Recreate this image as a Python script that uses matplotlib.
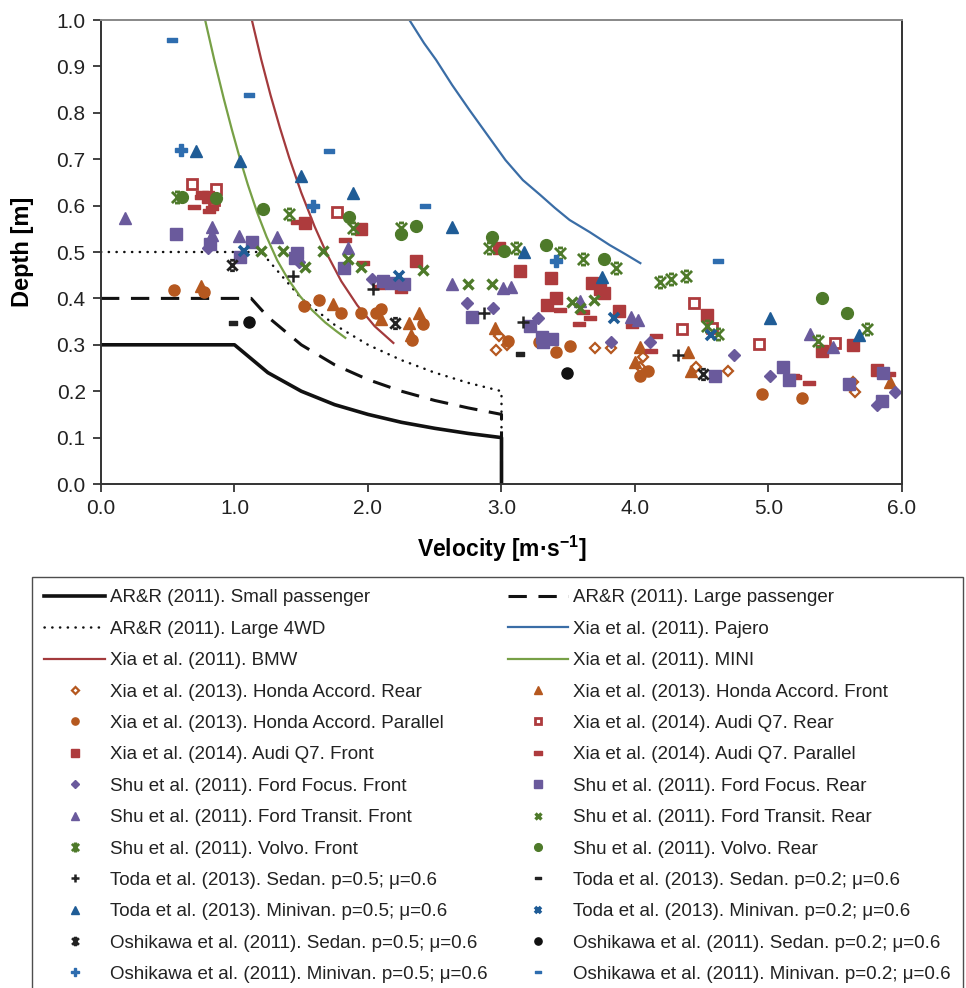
import matplotlib
matplotlib.use('Agg')
import matplotlib.pyplot as plt
from matplotlib.path import Path
from matplotlib.lines import Line2D

plt.rcParams['font.family'] = ['Liberation Sans', 'DejaVu Sans']

# ---------------- data ----------------
small_v = [0.0, 1.0, 1.25, 1.5, 1.75, 2.0, 2.25, 2.5, 2.75, 3.0, 3.0]
small_d = [0.3, 0.3, 0.24, 0.2, 0.171, 0.15, 0.133, 0.12, 0.109, 0.1, 0.0]
largep_v = [0.0, 1.125, 1.25, 1.5, 1.75, 2.0, 2.25, 2.5, 2.75, 3.0, 3.0]
largep_d = [0.4, 0.4, 0.36, 0.3, 0.257, 0.225, 0.2, 0.18, 0.164, 0.15, 0.0]
l4wd_v = [0.0, 1.2, 1.5, 1.75, 2.0, 2.25, 2.5, 2.75, 3.0, 3.0]
l4wd_d = [0.5, 0.5, 0.4, 0.343, 0.3, 0.267, 0.24, 0.218, 0.2, 0.0]
pajero_v = [2.31, 2.42, 2.51, 2.63, 2.76, 2.90, 3.03, 3.16, 3.29, 3.40, 3.51, 3.66, 3.81, 3.93, 4.04]
pajero_d = [1.0, 0.95, 0.914, 0.86, 0.806, 0.75, 0.698, 0.655, 0.623, 0.595, 0.569, 0.543, 0.515, 0.495, 0.476]
bmw_v = [1.13, 1.20, 1.27, 1.34, 1.41, 1.50, 1.60, 1.69, 1.80, 1.92, 2.05, 2.19]
bmw_d = [1.0, 0.915, 0.838, 0.768, 0.703, 0.628, 0.555, 0.497, 0.437, 0.385, 0.340, 0.304]
mini_v = [0.78, 0.85, 0.92, 0.98, 1.04, 1.10, 1.17, 1.24, 1.32, 1.40, 1.49, 1.58, 1.68, 1.76, 1.83]
mini_d = [1.0, 0.912, 0.830, 0.764, 0.702, 0.645, 0.585, 0.533, 0.482, 0.442, 0.405, 0.375, 0.348, 0.330, 0.315]

honda_rear_v = [2.98, 3.04, 2.96, 3.70, 3.82, 4.06, 4.04, 4.46, 4.70, 5.63, 5.65]
honda_rear_d = [0.319, 0.299, 0.289, 0.293, 0.293, 0.273, 0.252, 0.253, 0.244, 0.22, 0.198]
honda_front_v = [0.75, 1.74, 2.10, 2.38, 2.31, 2.32, 2.95, 4.04, 4.00, 4.40, 4.42, 5.91]
honda_front_d = [0.427, 0.388, 0.356, 0.368, 0.347, 0.321, 0.336, 0.295, 0.263, 0.285, 0.244, 0.22]
honda_par_v = [0.55, 0.77, 1.52, 1.63, 1.80, 1.95, 2.06, 2.10, 2.41, 2.33, 3.05, 3.28, 3.41, 3.51, 4.10, 4.04, 4.95, 5.25]
honda_par_d = [0.418, 0.414, 0.384, 0.397, 0.369, 0.369, 0.369, 0.377, 0.345, 0.31, 0.309, 0.306, 0.285, 0.297, 0.243, 0.233, 0.194, 0.185]
audi_rear_v = [0.68, 0.86, 0.85, 1.77, 4.35, 4.44, 4.58, 4.93, 5.50]
audi_rear_d = [0.646, 0.635, 0.612, 0.586, 0.334, 0.39, 0.336, 0.302, 0.304]
audi_front_v = [0.80, 1.53, 1.95, 2.36, 2.98, 3.14, 3.37, 3.41, 3.34, 3.68, 3.74, 3.77, 3.88, 4.54, 5.40, 5.63, 5.81]
audi_front_d = [0.619, 0.562, 0.549, 0.481, 0.509, 0.46, 0.443, 0.40, 0.385, 0.433, 0.42, 0.412, 0.373, 0.364, 0.287, 0.30, 0.246]
audi_par_v = [0.76, 0.75, 0.70, 0.83, 0.81, 1.47, 1.83, 1.96, 2.08, 2.25, 3.44, 3.61, 3.66, 3.58, 3.98, 4.16, 4.12, 5.18, 5.20, 5.30, 5.90]
audi_par_d = [0.627, 0.618, 0.597, 0.594, 0.588, 0.565, 0.526, 0.476, 0.425, 0.416, 0.375, 0.371, 0.358, 0.345, 0.34, 0.319, 0.287, 0.233, 0.23, 0.218, 0.237]
focus_front_v = [0.80, 1.48, 2.03, 2.74, 2.94, 3.27, 3.82, 4.11, 4.74, 5.01, 5.81, 5.95]
focus_front_d = [0.509, 0.478, 0.442, 0.39, 0.379, 0.358, 0.306, 0.306, 0.278, 0.233, 0.17, 0.198]
focus_rear_v = [0.56, 1.13, 1.04, 1.47, 1.45, 1.82, 2.11, 2.17, 2.27, 2.78, 3.21, 3.30, 3.31, 3.38, 4.60, 5.11, 5.15, 5.60, 5.86, 5.85, 0.82]
focus_rear_d = [0.539, 0.522, 0.49, 0.497, 0.487, 0.465, 0.437, 0.433, 0.431, 0.36, 0.34, 0.317, 0.306, 0.312, 0.233, 0.252, 0.224, 0.215, 0.239, 0.179, 0.518]
transit_front_v = [0.18, 0.83, 0.83, 0.82, 1.03, 1.32, 1.85, 2.63, 3.01, 3.07, 3.59, 3.97, 4.02, 5.31, 5.48]
transit_front_d = [0.573, 0.554, 0.537, 0.527, 0.534, 0.532, 0.508, 0.431, 0.422, 0.424, 0.394, 0.36, 0.353, 0.323, 0.295]
transit_rear_v = [1.20, 1.36, 1.66, 1.53, 1.85, 1.95, 2.41, 2.75, 2.93, 3.53, 3.59, 3.69]
transit_rear_d = [0.502, 0.502, 0.502, 0.468, 0.485, 0.468, 0.461, 0.431, 0.431, 0.392, 0.379, 0.397]
volvo_front_v = [0.57, 1.41, 1.89, 2.25, 2.91, 3.11, 3.44, 3.61, 3.86, 4.19, 4.27, 4.38, 4.54, 4.62, 5.37, 5.74]
volvo_front_d = [0.619, 0.582, 0.551, 0.551, 0.509, 0.509, 0.497, 0.484, 0.466, 0.435, 0.442, 0.448, 0.34, 0.323, 0.308, 0.334]
volvo_rear_v = [0.61, 0.86, 1.21, 1.86, 2.25, 2.36, 2.93, 3.02, 3.33, 3.77, 5.40, 5.59]
volvo_rear_d = [0.619, 0.616, 0.592, 0.575, 0.539, 0.556, 0.533, 0.503, 0.515, 0.484, 0.401, 0.368]
toda_sed5_v = [1.44, 2.04, 2.87, 3.16, 4.32]
toda_sed5_d = [0.449, 0.42, 0.368, 0.349, 0.278]
toda_sed2_v = [0.99, 3.14]
toda_sed2_d = [0.347, 0.28]
toda_min5_v = [0.71, 1.04, 1.50, 1.89, 2.63, 3.17, 3.75, 5.01, 5.68]
toda_min5_d = [0.718, 0.696, 0.664, 0.627, 0.554, 0.50, 0.446, 0.358, 0.321]
toda_min2_v = [1.07, 2.23, 3.84, 4.57]
toda_min2_d = [0.502, 0.448, 0.358, 0.321]
osh_sed5_v = [0.98, 2.20, 4.51]
osh_sed5_d = [0.472, 0.347, 0.237]
osh_sed2_v = [1.11, 3.49]
osh_sed2_d = [0.35, 0.239]
osh_min5_v = [0.60, 1.59, 3.41]
osh_min5_d = [0.72, 0.599, 0.481]
osh_min2_v = [0.53, 1.11, 1.71, 2.43, 4.62]
osh_min2_d = [0.957, 0.838, 0.718, 0.599, 0.48]

x_ticks = [0, 1, 2, 3, 4, 5, 6]
y_ticks = [0.0, 0.1, 0.2, 0.3, 0.4, 0.5, 0.6, 0.7, 0.8, 0.9, 1.0]

# ---------------- styles ----------------
ORANGE = '#B5581F'
RED = '#AE3B3D'
PURPLE = '#6A5A9C'
GREEN = '#4E7A2A'
BLUE = '#1F5C96'

star = Path([(-1, -1), (1, 1), (-1, 1), (1, -1), (-0.45, 1), (0.45, 1), (-0.45, -1), (0.45, -1)],
            [Path.MOVETO, Path.LINETO, Path.MOVETO, Path.LINETO,
             Path.MOVETO, Path.LINETO, Path.MOVETO, Path.LINETO])
dash = Path([(-1, -0.38), (1, -0.38), (1, 0.38), (-1, 0.38), (-1, -0.38)],
            [Path.MOVETO, Path.LINETO, Path.LINETO, Path.LINETO, Path.CLOSEPOLY])

fig = plt.figure(figsize=(9.66, 9.88), dpi=100)
ax = fig.add_axes([101 / 966, 1 - 484 / 988, 801 / 966, 464 / 988])

h = {}
h['small'], = ax.plot(small_v, small_d, color='#111111', lw=2.6, solid_joinstyle='round')
h['largep'], = ax.plot(largep_v, largep_d, color='#111111', lw=2.2, dashes=(6, 3.8))
h['l4wd'], = ax.plot(l4wd_v, l4wd_d, color='#111111', lw=1.8, dashes=(0.1, 3.0), dash_capstyle='round')
h['pajero'], = ax.plot(pajero_v, pajero_d, color='#3A6DA6', lw=1.6)
h['bmw'], = ax.plot(bmw_v, bmw_d, color='#A33A3C', lw=1.6)
h['mini'], = ax.plot(mini_v, mini_d, color='#77A046', lw=1.6)


def pts(v, d, **kw):
    ln, = ax.plot(v, d, linestyle='none', **kw)
    return ln

h['honda_rear'] = pts(honda_rear_v, honda_rear_d, marker='D', ms=5.5, mfc='white', mec=ORANGE, mew=1.6)
h['honda_front'] = pts(honda_front_v, honda_front_d, marker='^', ms=8, color=ORANGE, mec=ORANGE)
h['honda_par'] = pts(honda_par_v, honda_par_d, marker='o', ms=8, color=ORANGE, mec=ORANGE)
h['audi_rear'] = pts(audi_rear_v, audi_rear_d, marker='s', ms=7, mfc='white', mec=RED, mew=2)
h['audi_front'] = pts(audi_front_v, audi_front_d, marker='s', ms=8, color=RED, mec=RED)
h['audi_par'] = pts(audi_par_v, audi_par_d, marker=dash, ms=9, color=RED, mec=RED)
h['focus_front'] = pts(focus_front_v, focus_front_d, marker='D', ms=6, color=PURPLE, mec=PURPLE)
h['focus_rear'] = pts(focus_rear_v, focus_rear_d, marker='s', ms=8.5, color=PURPLE, mec=PURPLE)
h['transit_front'] = pts(transit_front_v, transit_front_d, marker='^', ms=8.5, color=PURPLE, mec=PURPLE)
h['transit_rear'] = pts(transit_rear_v, transit_rear_d, marker='x', ms=7, color=GREEN, mew=2.4)
h['volvo_front'] = pts(volvo_front_v, volvo_front_d, marker=star, ms=8, mfc='none', mec=GREEN, mew=2)
h['volvo_rear'] = pts(volvo_rear_v, volvo_rear_d, marker='o', ms=8.5, color=GREEN, mec=GREEN)
h['toda_sed5'] = pts(toda_sed5_v, toda_sed5_d, marker='+', ms=9, color='#222222', mew=1.8)
h['toda_sed2'] = pts(toda_sed2_v, toda_sed2_d, marker=dash, ms=6, color='#222222', mec='#222222')
h['toda_min5'] = pts(toda_min5_v, toda_min5_d, marker='^', ms=8.5, color=BLUE, mec=BLUE)
h['toda_min2'] = pts(toda_min2_v, toda_min2_d, marker='x', ms=7, color=BLUE, mew=2.6)
h['osh_sed5'] = pts(osh_sed5_v, osh_sed5_d, marker=star, ms=7.5, mfc='none', mec='#222222', mew=2)
h['osh_sed2'] = pts(osh_sed2_v, osh_sed2_d, marker='o', ms=8, color='#111111', mec='#111111')
h['osh_min5'] = pts(osh_min5_v, osh_min5_d, marker='P', ms=8, color='#2E6DAF', mec='#2E6DAF')
h['osh_min2'] = pts(osh_min2_v, osh_min2_d, marker=dash, ms=7, color='#2E6DAF', mec='#2E6DAF')

# ---------------- axes ----------------
ax.set_xlim(0, 6)
ax.set_ylim(0, 1)
ax.set_xticks(x_ticks)
ax.set_xticklabels(['%.1f' % t for t in x_ticks])
ax.set_yticks(y_ticks)
ax.set_yticklabels(['%.1f' % t for t in y_ticks])
ax.tick_params(direction='out', length=6, width=1.2, labelsize=15, colors='#222222', pad=5)
for sp in ax.spines.values():
    sp.set_linewidth(1.4)
    sp.set_color('#333333')
ax.spines['top'].set_color('#888888')
ax.set_xlabel('Velocity [m\u00b7s$^{\\mathregular{-1}}$]', fontsize=16.5, fontweight='bold', labelpad=11)
ax.set_ylabel('Depth [m]', fontsize=17, fontweight='bold', labelpad=16)

# ---------------- legend ----------------
left = [('small', 'AR&R (2011). Small passenger'),
        ('l4wd', 'AR&R (2011). Large 4WD'),
        ('bmw', 'Xia et al. (2011). BMW'),
        ('honda_rear', 'Xia et al. (2013). Honda Accord. Rear'),
        ('honda_par', 'Xia et al. (2013). Honda Accord. Parallel'),
        ('audi_front', 'Xia et al. (2014). Audi Q7. Front'),
        ('focus_front', 'Shu et al. (2011). Ford Focus. Front'),
        ('transit_front', 'Shu et al. (2011). Ford Transit. Front'),
        ('volvo_front', 'Shu et al. (2011). Volvo. Front'),
        ('toda_sed5', 'Toda et al. (2013). Sedan. p=0.5; \u03bc=0.6'),
        ('toda_min5', 'Toda et al. (2013). Minivan. p=0.5; \u03bc=0.6'),
        ('osh_sed5', 'Oshikawa et al. (2011). Sedan. p=0.5; \u03bc=0.6'),
        ('osh_min5', 'Oshikawa et al. (2011). Minivan. p=0.5; \u03bc=0.6')]
right = [('largep', 'AR&R (2011). Large passenger'),
         ('pajero', 'Xia et al. (2011). Pajero'),
         ('mini', 'Xia et al. (2011). MINI'),
         ('honda_front', 'Xia et al. (2013). Honda Accord. Front'),
         ('audi_rear', 'Xia et al. (2014). Audi Q7. Rear'),
         ('audi_par', 'Xia et al. (2014). Audi Q7. Parallel'),
         ('focus_rear', 'Shu et al. (2011). Ford Focus. Rear'),
         ('transit_rear', 'Shu et al. (2011). Ford Transit. Rear'),
         ('volvo_rear', 'Shu et al. (2011). Volvo. Rear'),
         ('toda_sed2', 'Toda et al. (2013). Sedan. p=0.2; \u03bc=0.6'),
         ('toda_min2', 'Toda et al. (2013). Minivan. p=0.2; \u03bc=0.6'),
         ('osh_sed2', 'Oshikawa et al. (2011). Sedan. p=0.2; \u03bc=0.6'),
         ('osh_min2', 'Oshikawa et al. (2011). Minivan. p=0.2; \u03bc=0.6')]
items = left + right
leg = fig.legend([h[k] for k, _ in items], [t for _, t in items],
                 loc='upper left', bbox_to_anchor=(32 / 966, 1 - 577 / 988),
                 ncol=2, fontsize=13.5, frameon=True, fancybox=False,
                 edgecolor='#222222', handlelength=3.25, handletextpad=0.26,
                 borderpad=0.66, labelspacing=0.76, columnspacing=1.05,
                 markerscale=0.65, borderaxespad=0)
leg.get_frame().set_linewidth(1.0)
for t in leg.get_texts():
    t.set_color('#222222')

fig.savefig('out.png', dpi=100)
